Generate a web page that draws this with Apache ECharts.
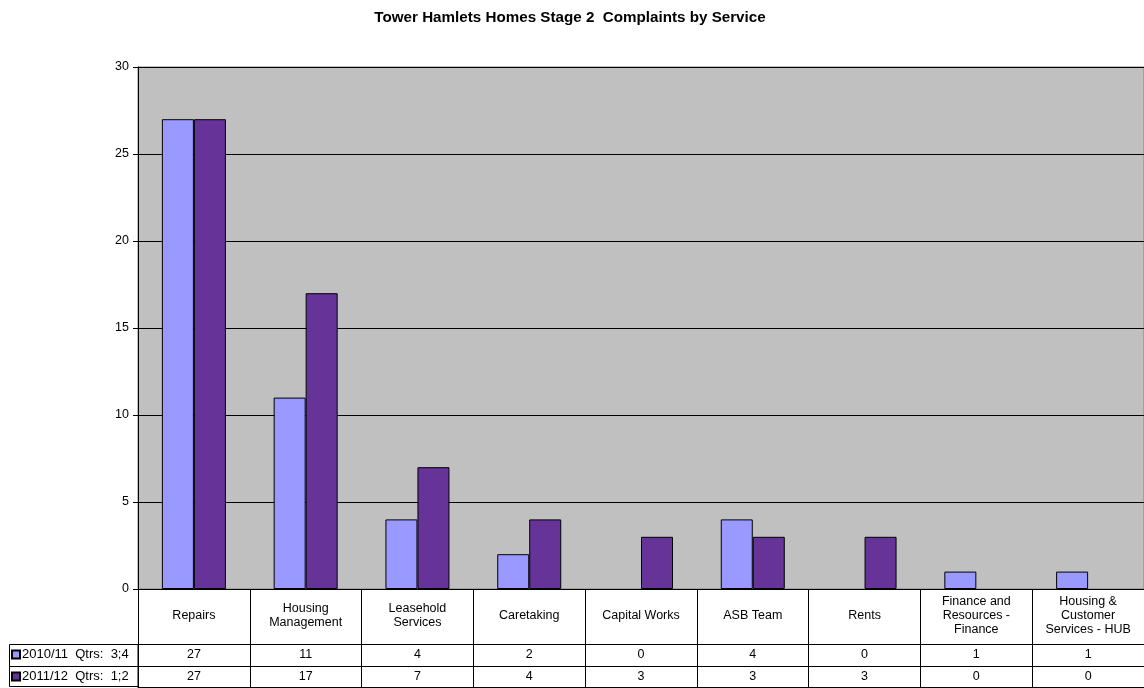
<!DOCTYPE html>
<html>
<head>
<meta charset="utf-8">
<script src="https://cdn.jsdelivr.net/npm/echarts@6/dist/echarts.min.js"></script>
<style>html,body{margin:0;padding:0;background:#fff}#c{width:1144px;height:688px}</style>
</head>
<body>
<div id="c"></div>
<script>
var categories = ['Repairs', 'Housing\nManagement', 'Leasehold\nServices', 'Caretaking', 'Capital Works', 'ASB Team', 'Rents', 'Finance and\nResources -\nFinance', 'Housing &\nCustomer\nServices - HUB'];
var seriesNames = ['2010/11  Qtrs:  3;4', '2011/12  Qtrs:  1;2'];
var values2010 = [27, 11, 4, 2, 0, 4, 0, 1, 1];
var values2011 = [27, 17, 7, 4, 3, 3, 3, 0, 0];
var yTicks = { min: 0, max: 30, interval: 5 };
var colors = ['#9999FF', '#663399'];

var FONT = 'Liberation Sans, Arial, sans-serif';
var FS = 12.5;
var chart = echarts.init(document.getElementById('c'));
var barData = function (vals) { return vals.map(function (v) { return v === 0 ? null : v; }); };
var tableAxis = function (offset, values, margin) {
  return {
    type: 'category', data: categories, position: 'bottom', offset: offset,
    axisLine: { show: true, lineStyle: { color: '#000', width: 1 } },
    axisTick: { show: false },
    axisLabel: values ? {
      show: true, interval: 0, margin: margin, verticalAlign: 'middle',
      fontFamily: FONT, fontSize: FS, color: '#000',
      formatter: function (v, i) { return String(values[i]); }
    } : { show: false },
    splitLine: { show: false }
  };
};
chart.setOption({
  animation: false,
  textStyle: { fontFamily: FONT },
  title: {
    text: 'Tower Hamlets Homes Stage 2  Complaints by Service',
    left: 565, textAlign: 'center', top: 5,
    textStyle: { fontFamily: FONT, fontSize: 15.2, fontWeight: 'bold', color: '#000' }
  },
  legend: {
    orient: 'vertical', left: 11, top: 647, height: 41, padding: 0, itemGap: 7,
    itemWidth: 8, itemHeight: 8, icon: 'rect', selectedMode: false,
    textStyle: { fontFamily: FONT, fontSize: 13, color: '#000', lineHeight: 15, padding: [0, 0, 0, -3] },
    data: seriesNames
  },
  grid: {
    left: 138, top: 67, width: 1008, height: 522,
    show: true, backgroundColor: '#C0C0C0', borderColor: '#808080', borderWidth: 1
  },
  xAxis: [
    {
      type: 'category', data: categories, position: 'bottom',
      axisLine: { show: true, lineStyle: { color: '#000', width: 1 } },
      axisTick: { show: true, length: 98, lineStyle: { color: '#000' } },
      axisLabel: { interval: 0, margin: 27, verticalAlign: 'middle', lineHeight: 14, fontFamily: FONT, fontSize: FS, color: '#000' },
      splitLine: { show: false }
    },
    tableAxis(55, values2010, 11),
    tableAxis(77, values2011, 10.5),
    tableAxis(98, null, 0)
  ],
  yAxis: {
    type: 'value', min: yTicks.min, max: yTicks.max, interval: yTicks.interval,
    axisLine: { show: true, lineStyle: { color: '#000', width: 1 } },
    axisTick: { show: true, length: 5, lineStyle: { color: '#000' } },
    axisLabel: { margin: 9, fontFamily: FONT, fontSize: FS, color: '#000' },
    splitLine: { show: true, lineStyle: { color: '#000', width: 1 } }
  },
  graphic: [
    { type: 'rect', shape: { x: 9.5, y: 644.5, width: 128.5, height: 42 }, style: { fill: 'none', stroke: '#000', lineWidth: 1 }, silent: true },
    { type: 'line', shape: { x1: 9.5, y1: 666.5, x2: 138, y2: 666.5 }, style: { stroke: '#000', lineWidth: 1 }, silent: true }
  ],
  series: [
    {
      name: seriesNames[0], type: 'bar', data: barData(values2010), barWidth: 32, barGap: '0%',
      itemStyle: { color: colors[0], borderColor: '#000', borderWidth: 1 }
    },
    {
      name: seriesNames[1], type: 'bar', data: barData(values2011), barWidth: 32, barGap: '0%',
      itemStyle: { color: colors[1], borderColor: '#000', borderWidth: 1 }
    }
  ]
});
</script>
</body>
</html>
